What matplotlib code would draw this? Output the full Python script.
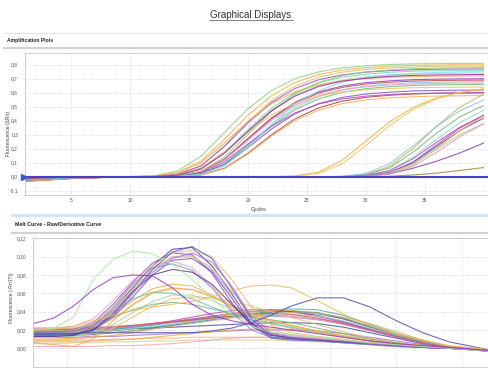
import matplotlib
matplotlib.use("Agg")
import matplotlib.pyplot as plt
from matplotlib.lines import Line2D
from matplotlib.ticker import FixedLocator, FixedFormatter

plt.rcParams['font.family'] = ['Liberation Sans', 'DejaVu Sans']

# ---------------- Amplification data ----------------
top_cycles = [1, 5, 9, 12, 14, 16, 18, 20, 22, 24, 26, 28, 30, 32, 34, 36, 38, 40]
top_xticks = [5, 10, 15, 20, 25, 30, 35]
top_yticks = [-0.1, 0.0, 0.1, 0.2, 0.3, 0.4, 0.5, 0.6, 0.7, 0.8]
top_ylabels = ["-0,1", "0,0", "0,1", "0,2", "0,3", "0,4", "0,5", "0,6", "0,7", "0,8"]

amp_E1 = [-0.020, -0.008, -0.001, 0.006, 0.041, 0.146, 0.316, 0.486, 0.616, 0.701, 0.749, 0.778, 0.792, 0.802, 0.806, 0.808, 0.809, 0.810]
amp_E2 = [-0.030, -0.012, -0.002, 0.004, 0.029, 0.112, 0.268, 0.440, 0.580, 0.674, 0.730, 0.762, 0.779, 0.790, 0.795, 0.798, 0.800, 0.800]
amp_E3 = [-0.010, -0.004, 0.000, 0.002, 0.017, 0.079, 0.221, 0.395, 0.545, 0.648, 0.711, 0.747, 0.766, 0.778, 0.784, 0.788, 0.790, 0.790]
amp_E4 = [-0.025, -0.010, -0.001, 0.002, 0.017, 0.077, 0.216, 0.385, 0.531, 0.631, 0.693, 0.728, 0.747, 0.758, 0.765, 0.768, 0.770, 0.770]
amp_E5 = [-0.015, -0.006, 0.000, 0.001, 0.011, 0.057, 0.175, 0.338, 0.490, 0.600, 0.671, 0.711, 0.733, 0.746, 0.754, 0.757, 0.758, 0.760]
amp_E6 = [-0.005, -0.002, 0.000, 0.001, 0.011, 0.056, 0.170, 0.329, 0.477, 0.585, 0.653, 0.692, 0.714, 0.727, 0.734, 0.737, 0.739, 0.740]
amp_E7 = [-0.035, -0.014, -0.002, 0.004, 0.026, 0.101, 0.241, 0.396, 0.522, 0.607, 0.657, 0.686, 0.701, 0.711, 0.716, 0.718, 0.720, 0.720]
amp_E8 = [-0.018, -0.007, -0.001, 0.000, 0.006, 0.035, 0.126, 0.273, 0.420, 0.532, 0.606, 0.648, 0.672, 0.685, 0.693, 0.697, 0.699, 0.700]
amp_E9 = [-0.028, -0.011, -0.001, 0.000, 0.006, 0.035, 0.124, 0.269, 0.414, 0.524, 0.597, 0.638, 0.662, 0.675, 0.683, 0.687, 0.689, 0.690]
amp_E10 = [-0.012, -0.005, 0.000, 0.000, 0.003, 0.024, 0.095, 0.228, 0.374, 0.493, 0.573, 0.621, 0.648, 0.662, 0.672, 0.676, 0.678, 0.680]
amp_E11 = [-0.022, -0.009, -0.001, 0.000, 0.005, 0.034, 0.121, 0.261, 0.402, 0.509, 0.580, 0.620, 0.643, 0.655, 0.663, 0.667, 0.669, 0.670]
amp_E12 = [-0.008, -0.003, 0.000, 0.000, 0.003, 0.024, 0.092, 0.221, 0.363, 0.479, 0.556, 0.603, 0.629, 0.643, 0.652, 0.656, 0.658, 0.660]
amp_E13 = [-0.020, -0.008, -0.001, 0.000, 0.003, 0.022, 0.087, 0.208, 0.341, 0.450, 0.523, 0.566, 0.591, 0.604, 0.613, 0.616, 0.618, 0.620]
amp_E14 = [-0.032, -0.013, -0.002, 0.000, 0.001, 0.013, 0.060, 0.168, 0.300, 0.414, 0.492, 0.540, 0.567, 0.582, 0.591, 0.596, 0.598, 0.600]
amp_E15 = [-0.016, -0.006, 0.000, 0.000, 0.005, 0.030, 0.108, 0.234, 0.360, 0.456, 0.519, 0.555, 0.576, 0.587, 0.594, 0.597, 0.599, 0.600]
amp_E16 = [-0.024, -0.010, -0.001, 0.000, 0.001, 0.013, 0.058, 0.162, 0.290, 0.400, 0.476, 0.522, 0.548, 0.563, 0.571, 0.576, 0.578, 0.580]
amp_E17 = [-0.010, -0.004, 0.000, 0.000, 0.006, 0.039, 0.140, 0.304, 0.468, 0.593, 0.675, 0.722, 0.749, 0.763, 0.772, 0.776, 0.778, 0.780]
amp_E18 = [-0.014, -0.006, 0.000, 0.000, 0.002, 0.017, 0.075, 0.210, 0.375, 0.518, 0.615, 0.675, 0.709, 0.728, 0.739, 0.745, 0.748, 0.750]
amp_E19 = [-0.026, -0.010, -0.001, 0.001, 0.014, 0.064, 0.179, 0.320, 0.442, 0.525, 0.576, 0.605, 0.621, 0.630, 0.636, 0.638, 0.640, 0.640]
amp_E20 = [-0.018, -0.007, -0.001, 0.001, 0.011, 0.055, 0.168, 0.325, 0.471, 0.577, 0.645, 0.683, 0.704, 0.717, 0.724, 0.727, 0.729, 0.730]

amp_L1 = [-0.015, -0.006, 0.000, 0, 0, 0, 0, 0, 0, 0.005, 0.033, 0.117, 0.254, 0.390, 0.494, 0.562, 0.601, 0.624]
amp_L2 = [-0.022, -0.009, -0.001, 0, 0, 0, 0, 0, 0, 0.003, 0.024, 0.092, 0.221, 0.363, 0.479, 0.556, 0.603, 0.629]
amp_L3 = [-0.012, -0.005, 0.000, 0, 0, 0, 0, 0, 0, 0, 0, 0.001, 0.016, 0.072, 0.200, 0.360, 0.497, 0.590]
amp_L4 = [-0.028, -0.011, -0.001, 0, 0, 0, 0, 0, 0, 0, 0, 0.001, 0.014, 0.062, 0.174, 0.310, 0.428, 0.508]
amp_L5 = [-0.008, -0.003, 0.000, 0, 0, 0, 0, 0, 0, 0, 0, 0, 0.009, 0.045, 0.138, 0.267, 0.387, 0.474]
amp_L6 = [-0.030, -0.012, -0.002, 0, 0, 0, 0, 0, 0, 0, 0, 0, 0.005, 0.029, 0.104, 0.226, 0.348, 0.441]
amp_L7 = [-0.018, -0.007, -0.001, 0, 0, 0, 0, 0, 0, 0, 0, 0, 0.008, 0.041, 0.127, 0.245, 0.355, 0.435]
amp_L8 = [-0.025, -0.010, -0.001, 0, 0, 0, 0, 0, 0, 0, 0, 0, 0.004, 0.028, 0.099, 0.215, 0.330, 0.418]
amp_L9 = [-0.034, -0.013, -0.002, 0, 0, 0, 0, 0, 0, 0, 0, 0, 0.003, 0.022, 0.084, 0.201, 0.330, 0.435]
amp_L10 = [-0.010, -0.004, 0.000, 0, 0, 0, 0, 0, 0, 0, 0, 0, 0.004, 0.025, 0.090, 0.195, 0.300, 0.380]
amp_L11 = [-0.020, -0.008, -0.001, 0, 0, 0, 0, 0, 0, 0, 0, 0, 0.004, 0.020, 0.060, 0.110, 0.170, 0.240]
amp_L12 = [-0.016, -0.006, 0.000, 0, 0, 0, 0, 0, 0, 0, 0, 0, 0.000, 0.003, 0.012, 0.025, 0.045, 0.065]
amp_L13 = [-0.012, -0.005, 0.000, 0, 0, 0, 0, 0, 0, 0, 0, 0, 0.003, 0.019, 0.073, 0.174, 0.286, 0.377]
amp_L14 = [-0.024, -0.009, -0.001, 0, 0, 0, 0, 0, 0, 0, 0, 0.003, 0.023, 0.091, 0.218, 0.358, 0.471, 0.548]
amp_N1 = [-0.005, -0.002, 0.000, 0, 0, 0, 0, 0, 0, 0, 0, 0, 0, 0, 0, 0, 0, 0]
amp_N2 = [-0.010, -0.004, 0.000, 0, 0, 0, 0, 0, 0, 0, 0, 0, 0, 0, 0, 0, 0, 0]

amp_series = [
    (amp_E1, '#8fd18a'), (amp_E2, '#f0b54a'), (amp_E3, '#d8c36a'), (amp_E4, '#a64fd0'),
    (amp_E5, '#7fd0c8'), (amp_E6, '#b5e0a0'), (amp_E7, '#f2a950'), (amp_E8, '#8e3fbf'),
    (amp_E9, '#c0504d'), (amp_E10, '#9ecae1'), (amp_E11, '#e89ac4'), (amp_E12, '#6fbf73'),
    (amp_E13, '#7e57c2'), (amp_E14, '#b0413e'), (amp_E15, '#b84bc8'), (amp_E16, '#f5b35c'),
    (amp_E17, '#9ccc65'), (amp_E18, '#80deea'), (amp_E19, '#f0c070'), (amp_E20, '#9c27b0'),
    (amp_L1, '#f0b040'), (amp_L2, '#f5c060'), (amp_L3, '#c9b458'), (amp_L4, '#7cb87a'),
    (amp_L5, '#8fd8d0'), (amp_L6, '#9c4fc4'), (amp_L7, '#c04fb0'), (amp_L8, '#6a4fc8'),
    (amp_L9, '#f0a850'), (amp_L10, '#a8d88a'), (amp_L11, '#8a3fb8'), (amp_L12, '#9a8a30'),
    (amp_L13, '#e59ac0'), (amp_L14, '#86c7e0'), (amp_N1, '#3a2f8f'), (amp_N2, '#5b2a86'),
]
threshold = 0.0

# ---------------- Melt curve data ----------------
melt_T = [62.5, 64, 65.5, 67, 68.5, 70, 71.5, 73, 74.5, 76, 77.5, 79, 80.5, 82, 84, 86, 88, 90, 92, 94, 97.5]
melt_xticks = [65, 70, 75, 80, 85, 90, 95]
melt_yticks = [0.0, 0.02, 0.04, 0.06, 0.08, 0.10, 0.12]
melt_ylabels = ["0,00", "0,02", "0,04", "0,06", "0,08", "0,10", "0,12"]

m_S1 = [0.020, 0.022, 0.034, 0.075, 0.097, 0.106, 0.103, 0.092, 0.075, 0.055, 0.036, 0.024, 0.018, 0.015, 0.012, 0.009, 0.006, 0.004, 0.002, 0.000, -0.004]
m_S2 = [0.027, 0.033, 0.046, 0.064, 0.077, 0.080, 0.079, 0.066, 0.048, 0.036, 0.030, 0.026, 0.023, 0.020, 0.016, 0.012, 0.008, 0.005, 0.003, 0.001, -0.003]
m_A1 = [0.018, 0.018, 0.019, 0.025, 0.042, 0.066, 0.090, 0.108, 0.110, 0.090, 0.060, 0.027, 0.012, 0.010, 0.009, 0.007, 0.005, 0.003, 0.001, 0.000, -0.003]
m_A2 = [0.020, 0.020, 0.021, 0.028, 0.048, 0.072, 0.093, 0.104, 0.102, 0.082, 0.050, 0.024, 0.014, 0.012, 0.010, 0.008, 0.005, 0.003, 0.001, 0.000, -0.003]
m_A3 = [0.016, 0.016, 0.018, 0.024, 0.040, 0.063, 0.086, 0.100, 0.101, 0.086, 0.058, 0.030, 0.016, 0.013, 0.010, 0.008, 0.005, 0.003, 0.001, 0.000, -0.003]
m_A4 = [0.014, 0.014, 0.015, 0.020, 0.034, 0.056, 0.080, 0.096, 0.098, 0.084, 0.055, 0.025, 0.011, 0.009, 0.008, 0.006, 0.004, 0.002, 0.001, 0.000, -0.003]
m_A5 = [0.022, 0.022, 0.024, 0.032, 0.052, 0.074, 0.090, 0.095, 0.088, 0.068, 0.042, 0.024, 0.017, 0.014, 0.011, 0.008, 0.005, 0.003, 0.001, 0.000, -0.003]
m_A6 = [0.019, 0.019, 0.020, 0.026, 0.044, 0.068, 0.090, 0.104, 0.107, 0.100, 0.075, 0.045, 0.025, 0.017, 0.013, 0.010, 0.006, 0.004, 0.002, 0.000, -0.003]
m_A7 = [0.017, 0.017, 0.018, 0.025, 0.045, 0.070, 0.088, 0.092, 0.085, 0.066, 0.040, 0.020, 0.012, 0.010, 0.008, 0.006, 0.004, 0.002, 0.001, 0.000, -0.003]
m_A8 = [0.013, 0.013, 0.014, 0.020, 0.038, 0.062, 0.080, 0.086, 0.083, 0.070, 0.048, 0.027, 0.015, 0.011, 0.009, 0.007, 0.005, 0.003, 0.001, 0.000, -0.003]
m_A9 = [0.021, 0.021, 0.022, 0.027, 0.042, 0.064, 0.086, 0.099, 0.100, 0.088, 0.063, 0.036, 0.020, 0.015, 0.012, 0.009, 0.006, 0.004, 0.002, 0.000, -0.003]
m_A10 = [0.015, 0.015, 0.016, 0.021, 0.036, 0.060, 0.086, 0.105, 0.111, 0.098, 0.066, 0.032, 0.014, 0.011, 0.009, 0.007, 0.005, 0.003, 0.001, 0.000, -0.003]
m_A11 = [0.018, 0.018, 0.019, 0.023, 0.038, 0.060, 0.083, 0.098, 0.104, 0.094, 0.068, 0.035, 0.017, 0.012, 0.010, 0.008, 0.005, 0.003, 0.001, 0.000, -0.003]
m_B1 = [0.018, 0.018, 0.019, 0.024, 0.036, 0.052, 0.065, 0.070, 0.068, 0.058, 0.045, 0.034, 0.027, 0.022, 0.017, 0.012, 0.008, 0.005, 0.002, 0.000, -0.003]
m_B2 = [0.016, 0.016, 0.017, 0.021, 0.032, 0.047, 0.060, 0.065, 0.064, 0.057, 0.047, 0.038, 0.031, 0.025, 0.019, 0.013, 0.008, 0.005, 0.002, 0.000, -0.003]
m_B3 = [0.019, 0.019, 0.020, 0.026, 0.040, 0.054, 0.061, 0.060, 0.054, 0.045, 0.037, 0.031, 0.027, 0.023, 0.018, 0.013, 0.008, 0.005, 0.002, 0.000, -0.003]
m_B4 = [0.012, 0.012, 0.013, 0.017, 0.026, 0.039, 0.051, 0.058, 0.058, 0.052, 0.043, 0.035, 0.029, 0.024, 0.018, 0.013, 0.008, 0.005, 0.002, 0.000, -0.003]
m_B5 = [0.008, 0.008, 0.009, 0.013, 0.022, 0.034, 0.046, 0.054, 0.056, 0.055, 0.051, 0.046, 0.040, 0.034, 0.026, 0.018, 0.011, 0.006, 0.003, 0.000, -0.003]
m_B6 = [0.020, 0.020, 0.021, 0.026, 0.034, 0.042, 0.048, 0.050, 0.048, 0.043, 0.038, 0.034, 0.031, 0.028, 0.022, 0.016, 0.010, 0.006, 0.002, 0.000, -0.003]
m_B7 = [0.006, 0.004, 0.002, 0.010, 0.030, 0.048, 0.061, 0.066, 0.064, 0.056, 0.046, 0.037, 0.030, 0.025, 0.019, 0.013, 0.008, 0.005, 0.002, 0.000, -0.003]
m_C1 = [0.018, 0.018, 0.019, 0.020, 0.022, 0.024, 0.027, 0.030, 0.034, 0.038, 0.041, 0.042, 0.042, 0.040, 0.035, 0.028, 0.020, 0.012, 0.006, 0.001, -0.004]
m_C2 = [0.016, 0.016, 0.017, 0.018, 0.020, 0.023, 0.026, 0.029, 0.032, 0.035, 0.038, 0.040, 0.041, 0.040, 0.036, 0.029, 0.021, 0.013, 0.006, 0.001, -0.004]
m_C3 = [0.019, 0.019, 0.019, 0.020, 0.021, 0.023, 0.025, 0.028, 0.031, 0.034, 0.037, 0.040, 0.042, 0.043, 0.042, 0.036, 0.026, 0.016, 0.008, 0.002, -0.004]
m_C4 = [0.017, 0.017, 0.017, 0.018, 0.019, 0.021, 0.023, 0.026, 0.029, 0.032, 0.035, 0.038, 0.040, 0.041, 0.039, 0.033, 0.024, 0.015, 0.007, 0.001, -0.004]
m_C5 = [0.010, 0.010, 0.011, 0.012, 0.014, 0.017, 0.021, 0.025, 0.030, 0.034, 0.038, 0.040, 0.041, 0.041, 0.038, 0.032, 0.024, 0.015, 0.008, 0.002, -0.003]
m_C6 = [0.022, 0.022, 0.022, 0.023, 0.024, 0.025, 0.027, 0.029, 0.031, 0.033, 0.035, 0.036, 0.036, 0.035, 0.032, 0.027, 0.020, 0.013, 0.006, 0.001, -0.003]
m_C7 = [0.013, 0.013, 0.014, 0.015, 0.017, 0.019, 0.022, 0.025, 0.028, 0.031, 0.034, 0.037, 0.039, 0.040, 0.038, 0.032, 0.023, 0.014, 0.007, 0.001, -0.004]
m_C8 = [0.020, 0.020, 0.020, 0.021, 0.022, 0.024, 0.026, 0.028, 0.030, 0.032, 0.034, 0.035, 0.035, 0.034, 0.031, 0.026, 0.019, 0.012, 0.006, 0.001, -0.003]
m_C9 = [0.015, 0.015, 0.015, 0.016, 0.017, 0.019, 0.021, 0.024, 0.027, 0.030, 0.033, 0.036, 0.038, 0.039, 0.038, 0.034, 0.027, 0.018, 0.009, 0.002, -0.003]
m_C10 = [0.018, 0.018, 0.018, 0.019, 0.020, 0.022, 0.024, 0.026, 0.029, 0.032, 0.034, 0.036, 0.037, 0.037, 0.035, 0.030, 0.022, 0.014, 0.007, 0.001, -0.003]
m_C11 = [0.021, 0.021, 0.021, 0.022, 0.023, 0.025, 0.027, 0.029, 0.031, 0.033, 0.035, 0.037, 0.038, 0.037, 0.033, 0.027, 0.020, 0.013, 0.006, 0.001, -0.003]
m_D1 = [0.016, 0.016, 0.016, 0.017, 0.017, 0.017, 0.017, 0.017, 0.017, 0.019, 0.022, 0.028, 0.036, 0.046, 0.055, 0.055, 0.045, 0.030, 0.017, 0.007, -0.003]
m_D2 = [0.020, 0.021, 0.024, 0.030, 0.036, 0.041, 0.045, 0.048, 0.051, 0.056, 0.063, 0.068, 0.069, 0.066, 0.052, 0.037, 0.025, 0.016, 0.009, 0.003, -0.002]
m_F1 = [0.009, 0.009, 0.009, 0.009, 0.010, 0.010, 0.011, 0.011, 0.012, 0.012, 0.012, 0.012, 0.012, 0.011, 0.010, 0.008, 0.006, 0.004, 0.002, 0.000, -0.003]
m_F2 = [0.005, 0.005, 0.006, 0.006, 0.007, 0.007, 0.008, 0.008, 0.009, 0.009, 0.009, 0.009, 0.009, 0.008, 0.007, 0.006, 0.005, 0.003, 0.002, 0.000, -0.003]
m_F3 = [0.002, 0.002, 0.002, 0.002, 0.003, 0.003, 0.004, 0.005, 0.007, 0.009, 0.011, 0.012, 0.012, 0.011, 0.010, 0.008, 0.006, 0.004, 0.002, 0.000, -0.003]
m_F4 = [0.012, 0.012, 0.012, 0.013, 0.013, 0.014, 0.015, 0.016, 0.017, 0.018, 0.019, 0.020, 0.020, 0.020, 0.019, 0.016, 0.012, 0.008, 0.004, 0.001, -0.003]
m_F5 = [0.020, 0.020, 0.020, 0.021, 0.021, 0.022, 0.022, 0.023, 0.024, 0.025, 0.026, 0.027, 0.028, 0.028, 0.027, 0.023, 0.017, 0.011, 0.005, 0.001, -0.003]
m_F6 = [0.007, 0.007, 0.007, 0.008, 0.009, 0.010, 0.012, 0.014, 0.016, 0.018, 0.020, 0.021, 0.021, 0.020, 0.018, 0.014, 0.010, 0.006, 0.003, 0.000, -0.003]

melt_series = [
    (m_F1, '#f1b868'), (m_F2, '#d8cc90'), (m_F3, '#f0a0b0'), (m_F4, '#a070c0'),
    (m_F5, '#3a4a9a'), (m_F6, '#e9a650'),
    (m_C1, '#c3419e'), (m_C2, '#8a44b0'), (m_C3, '#48a9a6'), (m_C4, '#5aa55a'),
    (m_C5, '#e6a040'), (m_C6, '#e07aa0'), (m_C7, '#4a66c0'), (m_C8, '#b48fd6'),
    (m_C9, '#c8b46a'), (m_C10, '#8fd3d0'), (m_C11, '#d05050'),
    (m_B1, '#f0a848'), (m_B2, '#e8c25a'), (m_B3, '#5fbfb5'), (m_B4, '#a6d9a0'),
    (m_B5, '#f5b660'), (m_B6, '#70b870'), (m_B7, '#f3a84a'),
    (m_A1, '#3c3c9c'), (m_A2, '#9b45c6'), (m_A3, '#c6a0dc'), (m_A4, '#6f4cc4'),
    (m_A5, '#e8a0c8'), (m_A6, '#eab870'), (m_A7, '#7f8fc0'), (m_A8, '#56308a'),
    (m_A9, '#d6c680'), (m_A10, '#5060c0'), (m_A11, '#b070c8'),
    (m_D1, '#4848a8'), (m_D2, '#f2b55a'), (m_S1, '#a8e6a0'), (m_S2, '#9a30c0'),
]

# ---------------- Figure ----------------
W, H = 488, 369
fig = plt.figure(figsize=(W / 100, H / 100), dpi=100)
fig.patch.set_facecolor('white')

def fx(px):
    return px / W

def fy(py):
    return 1 - py / H

def hline(x0, x1, y, color, lw):
    fig.add_artist(Line2D([fx(x0), fx(x1)], [fy(y), fy(y)], color=color, lw=lw,
                          transform=fig.transFigure))

# header
fig.text(fx(251), fy(15), "Graphical Displays", ha='center', va='center',
         fontsize=7, color='#333333')
hline(209, 293, 20, '#555555', 0.5)
hline(4, 488, 33, '#e3e3e3', 0.8)
fig.text(fx(7), fy(40.5), "Amplification Plots", ha='left', va='center',
         fontsize=3.6, color='#222222', fontweight='bold')
hline(4, 488, 48, '#d2d2d2', 1.6)
hline(12, 488, 215, '#cfe3f3', 2.0)
fig.text(fx(15), fy(224.5), "Melt Curve - Raw/Derivative Curve", ha='left', va='center',
         fontsize=3.8, color='#222222', fontweight='bold')
hline(12, 488, 232.5, '#d2d2d2', 1.6)

grid_kw = dict(color='#d4d4d4', lw=0.5, linestyle=(0, (1.5, 1.5)))

def style_axes(ax):
    for s in ax.spines.values():
        s.set_color('#c8c8c8')
        s.set_linewidth(0.6)
    ax.spines['right'].set_visible(False)
    ax.tick_params(length=0, labelsize=3.5, labelcolor='#555555')
    ax.grid(True, **grid_kw)
    ax.set_axisbelow(True)

# amplification axes
ax1 = fig.add_axes([fx(25), fy(195), fx(500) - fx(25), fy(53) - fy(195)])
for vals, col in amp_series:
    ax1.plot(top_cycles, vals, color=col, lw=0.8, alpha=0.85)
ax1.axhline(threshold, color='#4a3fc4', lw=1.5, zorder=5)
ax1.plot([0.97], [threshold], marker='>', color='#3559e6', markersize=4.5,
         clip_on=False, zorder=6)
ax1.set_xlim(1.05, 41.4)
ax1.set_ylim(-0.131, 0.884)
ax1.xaxis.set_major_locator(FixedLocator(top_xticks))
ax1.yaxis.set_major_locator(FixedLocator(top_yticks))
ax1.yaxis.set_major_formatter(FixedFormatter(top_ylabels))
style_axes(ax1)
ax1.tick_params(axis='y', pad=5)
ax1.tick_params(axis='x', pad=2)
ax1.set_xlabel("Cycles", fontsize=3.8, color='#444444', labelpad=1)
ax1.xaxis.set_label_coords((259 - 25) / (500 - 25), -0.085)
fig.text(fx(9), fy(133), "Fluorescence (\u0394Rn)", rotation=90, ha='center', va='center',
         fontsize=3.6, color='#444444')

# melt axes
ax2 = fig.add_axes([fx(33), fy(367), fx(500) - fx(33), fy(238) - fy(367)])
for vals, col in melt_series:
    ax2.plot(melt_T, vals, color=col, lw=0.8, alpha=0.8)
ax2.set_xlim(62.43, 97.86)
ax2.set_ylim(-0.0204, 0.1203)
ax2.xaxis.set_major_locator(FixedLocator(melt_xticks))
ax2.set_xticklabels([])
ax2.yaxis.set_major_locator(FixedLocator(melt_yticks))
ax2.yaxis.set_major_formatter(FixedFormatter(melt_ylabels))
style_axes(ax2)
ax2.tick_params(axis='y', pad=5)
fig.text(fx(12), fy(298), "Fluorescence (-Rn'(T))", rotation=90, ha='center', va='center',
         fontsize=3.6, color='#444444')

fig.savefig("out.png", dpi=100, facecolor='white')
